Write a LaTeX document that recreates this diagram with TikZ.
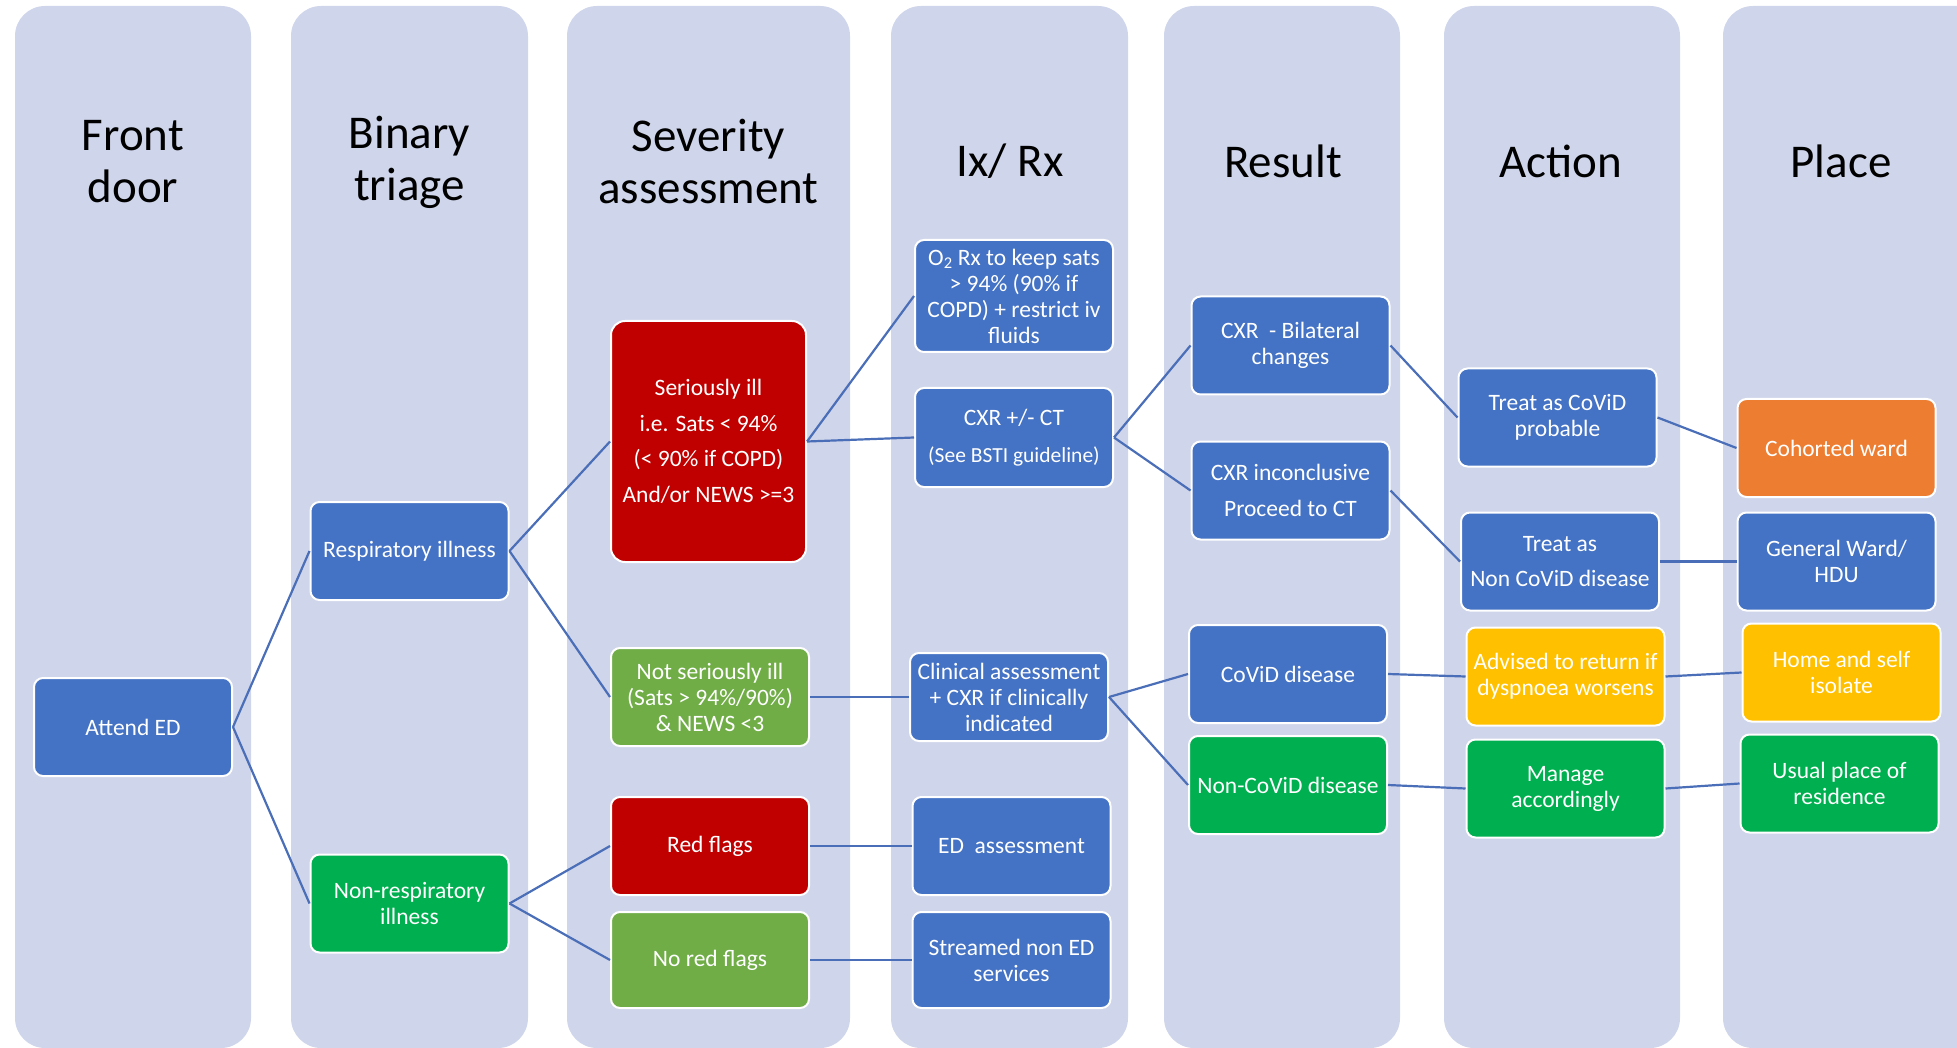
\documentclass[tikz,border=0pt]{standalone}
\usepackage{fontspec}
\setmainfont{Carlito}
\definecolor{colbg}{HTML}{CFD5EA}
\definecolor{bblue}{HTML}{4472C4}
\definecolor{bred}{HTML}{C00000}
\definecolor{lgreen}{HTML}{70AD47}
\definecolor{dgreen}{HTML}{00B050}
\definecolor{borange}{HTML}{ED7D31}
\definecolor{byellow}{HTML}{FFC000}
\definecolor{linkc}{HTML}{4A6EB8}
\begin{document}
\begin{tikzpicture}[x=1pt,y=-1pt,
  box/.style={draw=white, line width=2pt, rounded corners=9pt, text=white, align=center,
    inner sep=2pt, font=\fontsize{23.5}{26}\selectfont, minimum width=198pt, minimum height=98pt},
  wide/.style={font=\fontsize{23.5}{35.5}\selectfont},
  head/.style={align=center, font=\fontsize{47}{52}\selectfont, text=black},
  lane/.style={fill=colbg, rounded corners=30pt},
  link/.style={draw=linkc, line width=2.2pt}]
\useasboundingbox (0,0) rectangle (1957,1048);
\begin{scope}
\clip (0,0) rectangle (1957,1048);
\fill[lane] (15,6) rectangle (251,1048);
\fill[lane] (291,6) rectangle (528,1048);
\fill[lane] (567,6) rectangle (850,1048);
\fill[lane] (891,6) rectangle (1128,1048);
\fill[lane] (1164,6) rectangle (1400,1048);
\fill[lane] (1444,6) rectangle (1680,1048);
\fill[lane] (1723,6) rectangle (1990,1048);
\end{scope}
% headers
\node[head] (h1) at (133,162) {Front\\door};
\node[head] (h2) at (409.5,162) {Binary\\triage};
\node[head] (h3) at (708.5,162) {Severity\\assessment};
\node[head] (h4) at (1010,161) {Ix/ Rx};
\node[head] (h5) at (1283,161) {Result};
\node[head] (h6) at (1561,161) {Action};
\node[head] (h7) at (1841,161) {Place};
% boxes
\node[box, fill=bblue] (attend) at (133,727) {Attend ED};
\node[box, fill=bblue] (resp) at (409.5,551) {Respiratory illness};
\node[box, fill=dgreen] (nonresp) at (409.5,903.5) {Non-respiratory\\illness};
\node[box, wide, fill=bred, minimum width=195pt, minimum height=241pt, rounded corners=14pt] (serious) at (708.5,441.5)
  {Seriously ill\\i.e. Sats < 94\%\\(< 90\% if COPD)\\And/or NEWS >=3};
\node[box, fill=lgreen] (notserious) at (710,697) {Not seriously ill\\(Sats > 94\%/90\%)\\\& NEWS <3};
\node[box, fill=bred] (redflags) at (710,846) {Red flags};
\node[box, fill=lgreen, minimum height=96pt] (noredflags) at (710,960) {No red flags};
\node[box, fill=bblue, minimum height=112pt] (oxygen) at (1014,296)
  {O\textsubscript{2} Rx to keep sats\\> 94\% (90\% if\\COPD) + restrict iv\\fluids};
\node[box, fill=bblue, minimum height=99pt] (cxrct) at (1014,437.5)
  {CXR +/- CT\\[11pt]{\fontsize{21.5}{26}\selectfont (See BSTI guideline)}};
\node[box, fill=bblue, minimum height=88pt] (clinical) at (1009,697)
  {Clinical assessment\\+ CXR if clinically\\indicated};
\node[box, fill=bblue] (edassess) at (1011.5,846) {ED\ \ assessment};
\node[box, fill=bblue, minimum height=96pt] (streamed) at (1011.5,960) {Streamed non ED\\services};
\node[box, fill=bblue] (bilateral) at (1290.5,345.5) {CXR\ \ - Bilateral\\changes};
\node[box, wide, fill=bblue] (inconcl) at (1290.5,490.5) {CXR inconclusive\\Proceed to CT};
\node[box, fill=bblue] (covid) at (1288,674) {CoViD disease};
\node[box, fill=dgreen] (noncovid) at (1288,785) {Non-CoViD disease};
\node[box, fill=bblue] (treatprob) at (1557.5,417.5) {Treat as CoViD\\probable};
\node[box, wide, fill=bblue] (treatnon) at (1560,561.5) {Treat as\\Non CoViD disease};
\node[box, fill=byellow] (advised) at (1565.5,676.5) {Advised to return if\\dyspnoea worsens};
\node[box, fill=dgreen] (manage) at (1565.5,788.5) {Manage\\accordingly};
\node[box, fill=borange] (cohort) at (1836.5,448) {Cohorted ward};
\node[box, fill=bblue] (general) at (1836.5,561.5) {General Ward/\\HDU};
\node[box, fill=byellow] (home) at (1841.5,672.5) {Home and self\\isolate};
\node[box, fill=dgreen] (usual) at (1839.5,783.5) {Usual place of\\residence};
% connectors
\draw[link] (attend.east) -- (resp.west);
\draw[link] (attend.east) -- (nonresp.west);
\draw[link] (resp.east) -- (serious.west);
\draw[link] (resp.east) -- (notserious.west);
\draw[link] (nonresp.east) -- (redflags.west);
\draw[link] (nonresp.east) -- (noredflags.west);
\draw[link] (serious.east) -- (oxygen.west);
\draw[link] (serious.east) -- (cxrct.west);
\draw[link] (notserious.east) -- (clinical.west);
\draw[link] (redflags.east) -- (edassess.west);
\draw[link] (noredflags.east) -- (streamed.west);
\draw[link] (cxrct.east) -- (bilateral.west);
\draw[link] (cxrct.east) -- (inconcl.west);
\draw[link] (clinical.east) -- (covid.west);
\draw[link] (clinical.east) -- (noncovid.west);
\draw[link] (bilateral.east) -- (treatprob.west);
\draw[link] (inconcl.east) -- (treatnon.west);
\draw[link] (covid.east) -- (advised.west);
\draw[link] (noncovid.east) -- (manage.west);
\draw[link] (treatprob.east) -- (cohort.west);
\draw[link] (treatnon.east) -- (general.west);
\draw[link] (advised.east) -- (home.west);
\draw[link] (manage.east) -- (usual.west);
\end{tikzpicture}
\end{document}
